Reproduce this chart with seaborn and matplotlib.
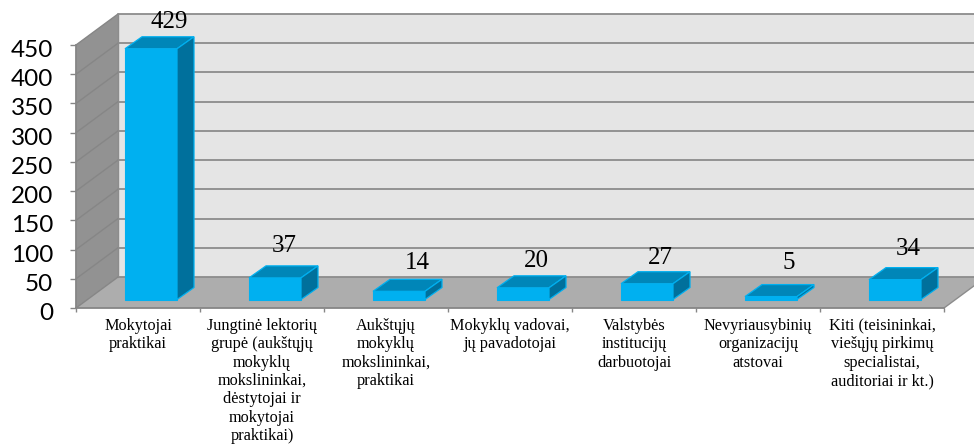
import matplotlib
matplotlib.use('Agg')
from matplotlib import pyplot as plt
from matplotlib.patches import Polygon
from matplotlib.transforms import ScaledTranslation
import pandas as pd
import seaborn as sns

categories = [
    'Mokytojai\npraktikai',
    'Jungtinė lektorių\ngrupė (aukštųjų\nmokyklų\nmokslininkai,\ndėstytojai ir\nmokytojai\npraktikai)',
    'Aukštųjų\nmokyklų\nmokslininkai,\npraktikai',
    'Mokyklų vadovai,\njų pavadotojai',
    'Valstybės\ninstitucijų\ndarbuotojai',
    'Nevyriausybinių\norganizacijų\natstovai',
    'Kiti (teisininkai,\nviešųjų pirkimų\nspecialistai,\nauditoriai ir kt.)',
]
values = [429, 37, 14, 20, 27, 5, 34]
y_ticks = [0, 50, 100, 150, 200, 250, 300, 350, 400, 450]

# label shift from the front top middle of each bar, in pixels
label_shift = [(18, 27), (9, 32), (18, 28), (13, 27), (13, 26), (18, 34), (13, 31)]

PX_X = 868 / 7
PX_Y = 263 / 450


def px_x(p):
    return p / PX_X


def px_y(p):
    return p / PX_Y


sns.set_theme(style='white')
plt.rcParams['font.family'] = ['Liberation Serif', 'DejaVu Sans']

fig = plt.figure(figsize=(9.74, 4.46), dpi=100, facecolor='white')
ax = fig.add_axes([76 / 974, (446 - 308) / 446, 868 / 974, 263 / 446])
ax.patch.set_visible(False)

data = pd.DataFrame({'category': categories, 'value': values})
sns.barplot(data=data, x='category', y='value', color='#00B0F0', saturation=1,
            width=52 / PX_X, errorbar=None, ax=ax, zorder=5,
            edgecolor='#00B0F0', linewidth=0.8)

ax.set_xlim(-0.5, 6.5)
ax.set_ylim(0, 450)
ax.set_xlabel('')
ax.set_ylabel('')

# walls and floor
wall_dx, wall_dy = px_x(42), px_y(31)
x0, x1 = -0.5, 6.5
top = 450
ax.add_patch(Polygon([(x0 + wall_dx, wall_dy), (x1 + wall_dx, wall_dy),
                      (x1 + wall_dx, top + wall_dy), (x0 + wall_dx, top + wall_dy)],
                     facecolor='#E5E5E5', edgecolor='none', clip_on=False, zorder=1))
ax.add_patch(Polygon([(x0, 0), (x0 + wall_dx, wall_dy), (x0 + wall_dx, top + wall_dy), (x0, top)],
                     facecolor='#929292', edgecolor='none', clip_on=False, zorder=1))
ax.add_patch(Polygon([(x0, 0), (x1, 0), (x1 + wall_dx, wall_dy), (x0 + wall_dx, wall_dy)],
                     facecolor='#ADADAD', edgecolor='none', clip_on=False, zorder=1.5))
for v in y_ticks:
    ax.plot([x0 + wall_dx, x1 + wall_dx], [v + wall_dy, v + wall_dy], color='#8C8C8C',
            lw=1.3, clip_on=False, zorder=2)
    ax.plot([x0, x0 + wall_dx], [v, v + wall_dy], color='#868686', lw=1.0,
            clip_on=False, zorder=2)
ax.plot([x0 + wall_dx, x0 + wall_dx], [wall_dy, top + wall_dy], color='#8C8C8C', lw=1.0,
        clip_on=False, zorder=2)
ax.plot([x1, x1 + wall_dx], [0, wall_dy], color='#8C8C8C', lw=1.0, clip_on=False, zorder=2)

# move the bars onto the floor and give them depth
depth_dx, depth_dy = px_x(17), px_y(12)
shift_x, shift_y = px_x(13), px_y(8.5)
for bar, value, shift in zip(ax.patches[:len(values)], values, label_shift):
    bar.set_x(bar.get_x() + shift_x)
    bar.set_y(shift_y)
    left = bar.get_x()
    right = left + bar.get_width()
    low = shift_y
    high = shift_y + value
    ax.add_patch(Polygon([(left, high), (right, high), (right + depth_dx, high + depth_dy),
                          (left + depth_dx, high + depth_dy)],
                         facecolor='#0086B8', edgecolor='#00B0F0', lw=0.9,
                         clip_on=False, zorder=5))
    ax.add_patch(Polygon([(right, low), (right + depth_dx, low + depth_dy),
                          (right + depth_dx, high + depth_dy), (right, high)],
                         facecolor='#00709C', edgecolor='#00B0F0', lw=0.9,
                         clip_on=False, zorder=5))
    ax.annotate(str(value), xy=(left + bar.get_width() / 2, high),
                xytext=(shift[0] * 0.72, shift[1] * 0.72), textcoords='offset points',
                ha='center', va='center', fontsize=18, color='black',
                annotation_clip=False, zorder=6)

# axes
for side in ['top', 'right']:
    ax.spines[side].set_visible(False)
for side in ['left', 'bottom']:
    ax.spines[side].set_color('#868686')
    ax.spines[side].set_linewidth(1.3)
    ax.spines[side].set_zorder(3)

ax.set_yticks(y_ticks)
ax.set_yticklabels([str(v) for v in y_ticks], fontfamily='Lato', fontsize=17.5, color='black')
ax.tick_params(axis='y', left=True, length=4.5, width=1.0, color='#868686', pad=12)
label_move = ScaledTranslation(0, -2.5 / 72, fig.dpi_scale_trans)
for lab in ax.get_yticklabels():
    lab.set_transform(lab.get_transform() + label_move)

ax.set_xticks(range(len(categories)))
ax.set_xticklabels(categories, fontsize=11.7, color='black', linespacing=1.2, va='top')
ax.set_xticks([i - 0.5 for i in range(len(categories) + 1)], minor=True)
ax.tick_params(axis='x', which='major', bottom=False, length=0, pad=7)
ax.tick_params(axis='x', which='minor', bottom=True, length=3, width=1.0, color='#868686')

fig.savefig('out.png', dpi=100)
plt.close(fig)
